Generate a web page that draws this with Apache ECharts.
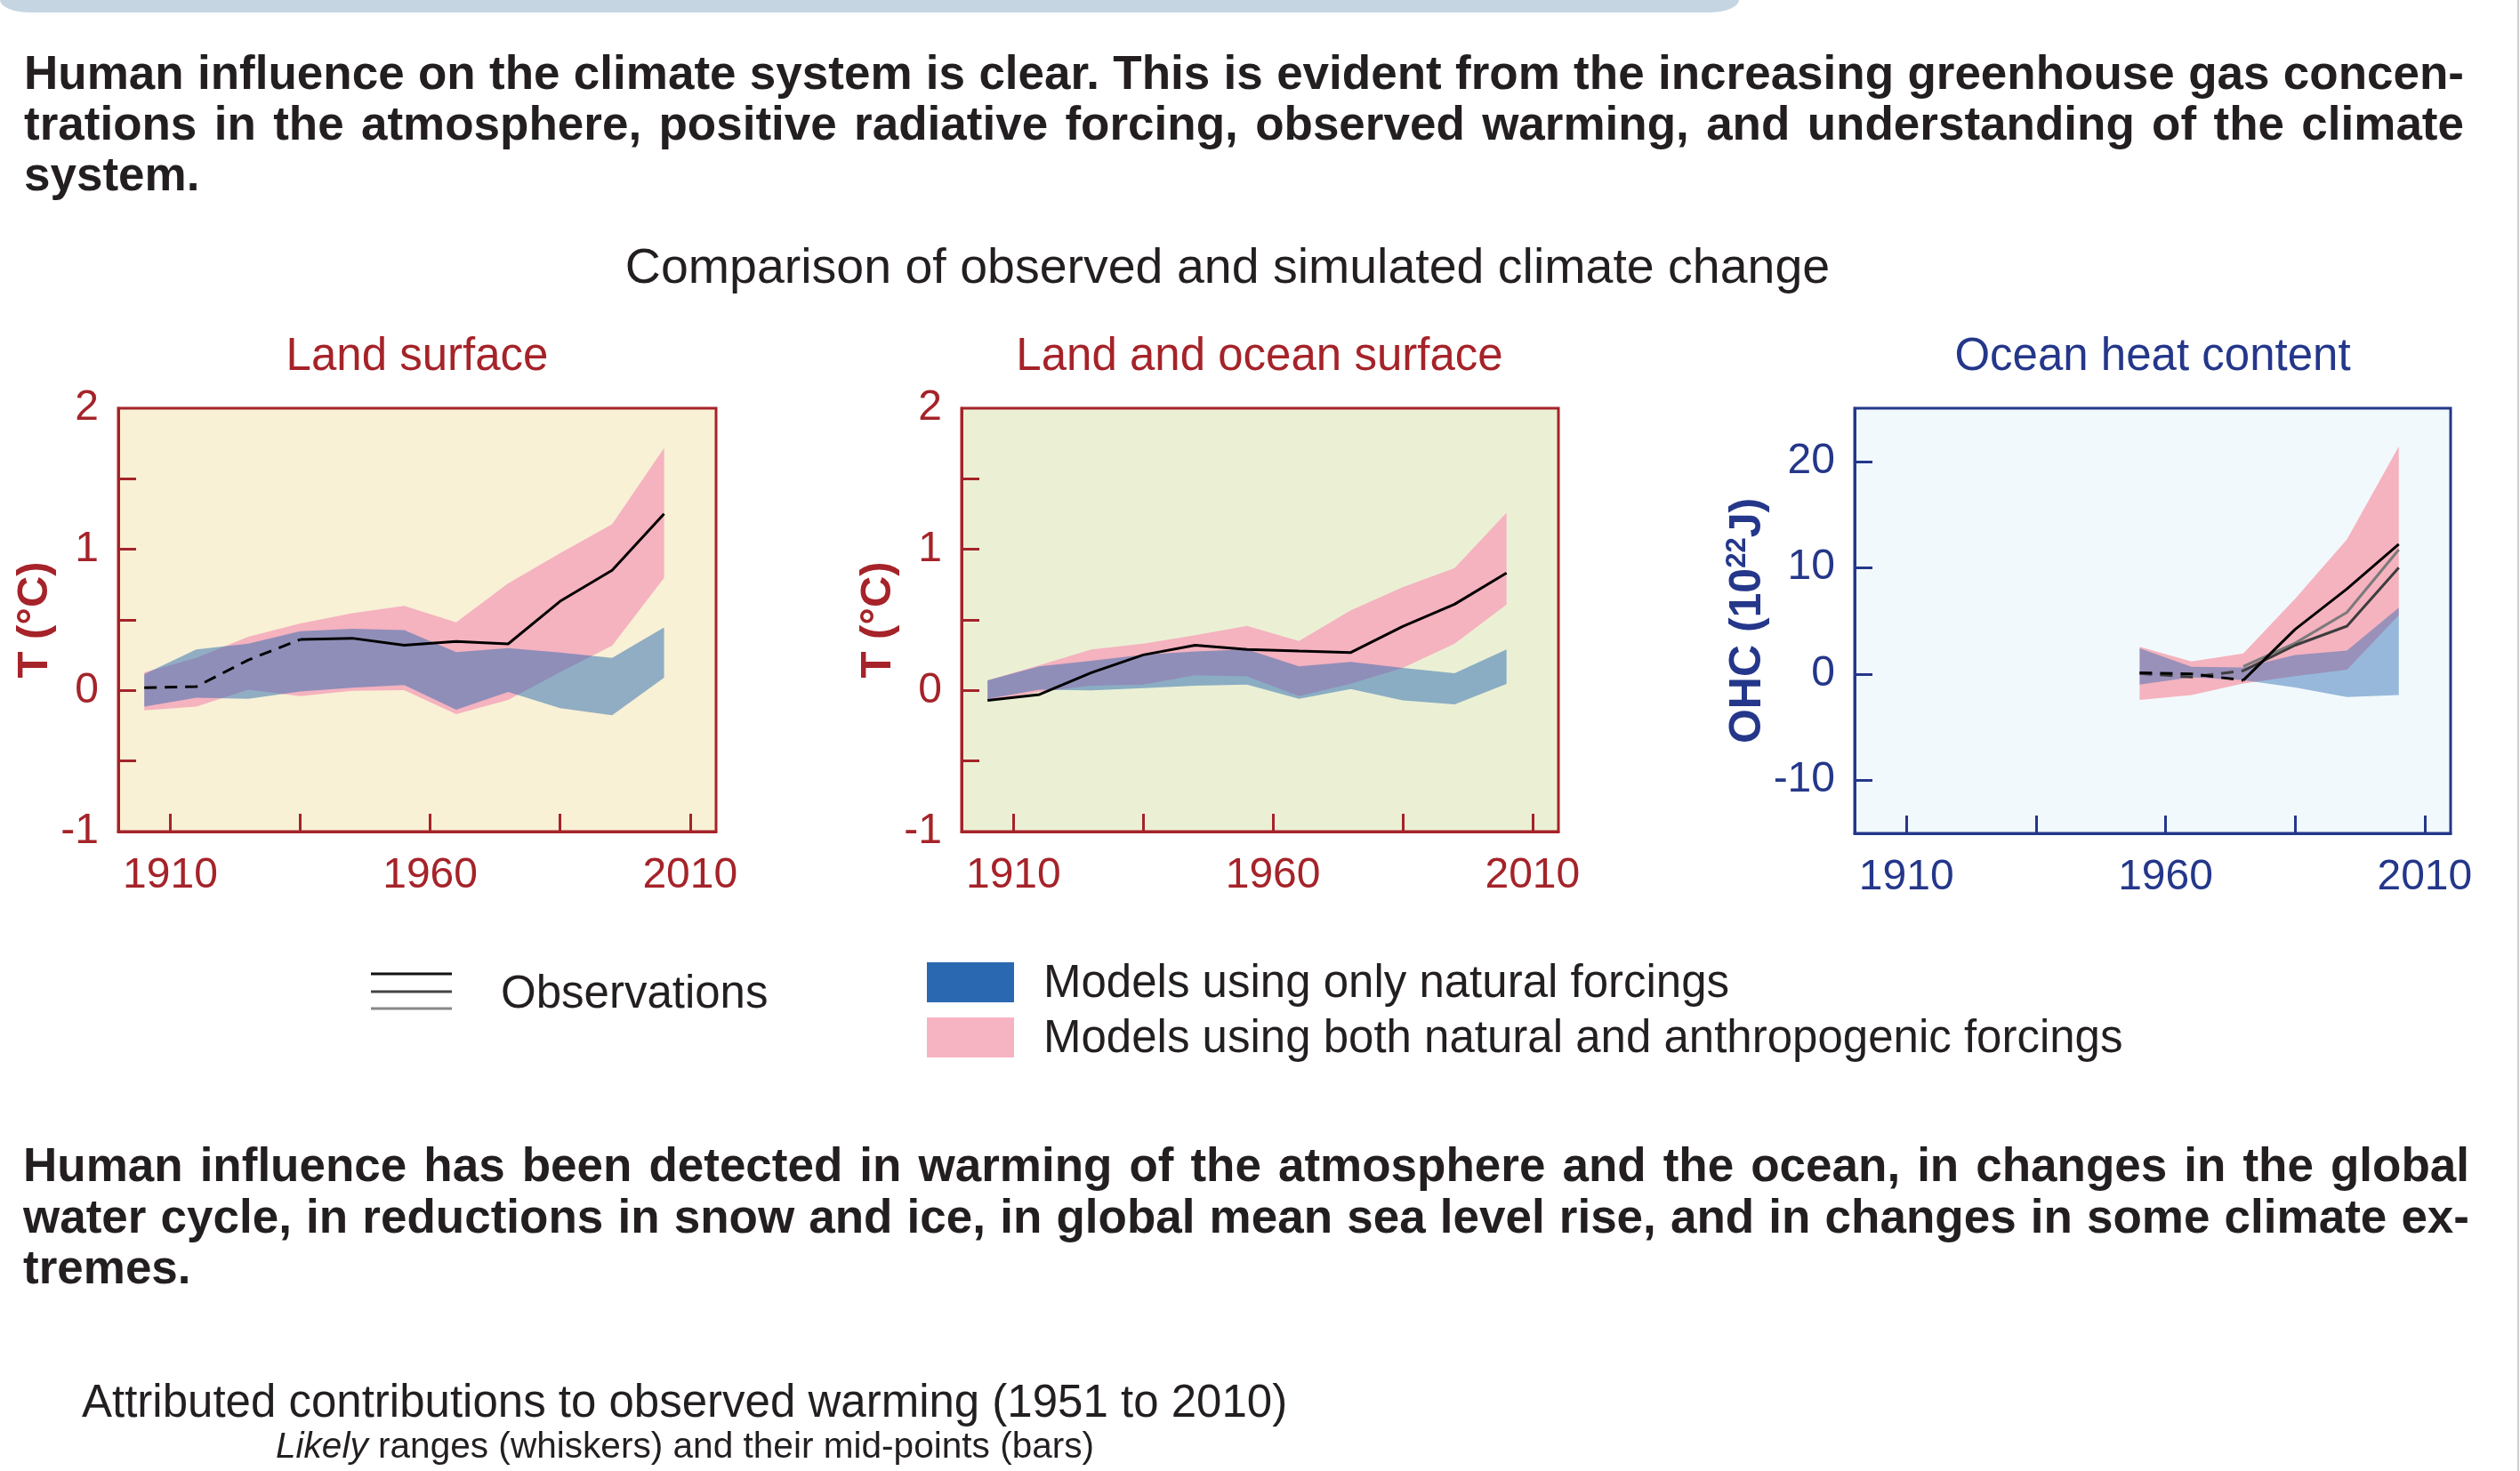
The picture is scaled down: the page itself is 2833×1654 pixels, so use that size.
<!DOCTYPE html>
<html>
<head>
<meta charset="utf-8">
<script src="https://cdn.jsdelivr.net/npm/echarts@6/dist/echarts.min.js"></script>
<style>
  html, body { margin: 0; padding: 0; background: #ffffff; }
  #chart { position: absolute; left: 0; top: 0; width: 2833px; height: 1654px; }
  .ln { position: absolute; white-space: nowrap; font-family: "Liberation Sans", Arial, sans-serif; color: #231f20; }
  .b { font-weight: bold; font-size: 53px; line-height: 57px; }
  #banner { position: absolute; left: 0; top: 0; width: 1955px; height: 14px; background: #c5d6e2;
            border-radius: 0 0 34px 34px / 0 0 14px 14px; }
  #edge { position: absolute; left: 2830px; top: 0; width: 2px; height: 1654px; background: #cfcfcf; }
  #attr { position: absolute; left: 92px; top: 1550px; font-size: 51px; line-height: 51px; }
  #likely { position: absolute; left: 310px; top: 1605px; font-size: 40.6px; line-height: 41px; }
</style>
</head>
<body>
<div id="chart"></div>
<div id="banner"></div>
<div id="edge"></div>
<div id="attr" class="ln">Attributed contributions to observed warming (1951 to 2010)</div>
<div id="likely" class="ln"><i>Likely</i> ranges (whiskers) and their mid-points (bars)</div>
<script>
// ---------------- text ----------------
const para1Lines = [
  "Human influence on the climate system is clear. This is evident from the increasing greenhouse gas concen-",
  "trations in the atmosphere, positive radiative forcing, observed warming, and understanding of the climate",
  "system."
];
const para2Lines = [
  "Human influence has been detected in warming of the atmosphere and the ocean, in changes in the global",
  "water cycle, in reductions in snow and ice, in global mean sea level rise, and in changes in some climate ex-",
  "tremes."
];
const mainTitle = "Comparison of observed and simulated climate change";
const panelTitles = ["Land surface", "Land and ocean surface", "Ocean heat content"];
const legendObs = "Observations";
const legendNat = "Models using only natural forcings";
const legendBoth = "Models using both natural and anthropogenic forcings";

// ---------------- data ----------------
const years = [1905, 1915, 1925, 1935, 1945, 1955, 1965, 1975, 1985, 1995, 2005];
const yearsOhc = [1955, 1965, 1975, 1985, 1995, 2005];

// Land surface (°C)
const landObs       = [0.02, 0.027, 0.216, 0.361, 0.37, 0.321, 0.347, 0.33, 0.632, 0.851, 1.252];
const landObsDashedUntil = 1935;
const landBothUpper = [0.128, 0.231, 0.38, 0.475, 0.548, 0.599, 0.483, 0.758, 0.972, 1.178, 1.718];
const landBothLower = [-0.141, -0.115, 0.006, -0.04, -0.002, 0.002, -0.168, -0.067, 0.13, 0.317, 0.798];
const landNatUpper  = [0.115, 0.29, 0.332, 0.42, 0.437, 0.428, 0.271, 0.30, 0.269, 0.231, 0.447];
const landNatLower  = [-0.115, -0.052, -0.059, -0.008, 0.02, 0.038, -0.137, -0.01, -0.126, -0.176, 0.09];

// Land and ocean surface (°C)
const globObs       = [-0.071, -0.029, 0.126, 0.252, 0.321, 0.29, 0.279, 0.269, 0.454, 0.611, 0.832];
const globBothUpper = [0.071, 0.179, 0.29, 0.332, 0.391, 0.458, 0.351, 0.567, 0.731, 0.867, 1.26];
const globBothLower = [-0.08, -0.01, 0.034, 0.042, 0.107, 0.1, -0.04, 0.048, 0.16, 0.332, 0.609];
const globNatUpper  = [0.071, 0.17, 0.21, 0.252, 0.277, 0.29, 0.17, 0.202, 0.16, 0.122, 0.29];
const globNatLower  = [-0.06, 0.006, 0.0, 0.017, 0.034, 0.042, -0.059, 0.01, -0.071, -0.099, 0.046];

// Ocean heat content (10^22 J)
const ohcObsA = [0.1, 0.0, -0.6, 4.2, 8.0, 12.2];
const ohcObsB = [0.05, -0.3, 0.3, 2.7, 4.5, 10.0];
const ohcObsC = [null, null, 0.7, 2.9, 5.8, 11.7];
const ohcObsDashedUntil = 1975;
const ohcBothUpper = [2.56, 1.17, 1.92, 7.08, 12.65, 21.4];
const ohcBothLower = [-2.45, -1.98, -0.89, -0.2, 0.39, 5.52];
const ohcNatUpper  = [2.4, 0.67, 0.6, 1.78, 2.2, 6.24];
const ohcNatLower  = [-1.0, -0.31, -0.59, -1.28, -2.17, -1.98];

// axis ticks / labels
const xTickYears  = [1910, 1935, 1960, 1985, 2010];
const xLabelYears = [1910, 1960, 2010];
const tTicks  = [-0.5, 0, 0.5, 1, 1.5];
const tLabels = [-1, 0, 1, 2];
const ohcTicks = [-10, 0, 10, 20];

// ---------------- styles ----------------
const FONT = '"Liberation Sans", Arial, sans-serif';
const RED = '#a52329';
const BLUE = '#24378a';
const PINK = '#f5b2bf';
const NAT = 'rgba(42,105,177,0.5)';
const NAT3 = 'rgba(42,105,177,0.45)';
const INK = '#231f20';
const LABEL_SIZE = 48;

// ---------------- paragraphs (justified lines) ----------------
function placeLines(lines, left, width, firstTop, step) {
  lines.forEach(function (t, i) {
    const d = document.createElement('div');
    d.className = 'ln b';
    d.textContent = t;
    d.style.left = left + 'px';
    d.style.top = (firstTop + i * step) + 'px';
    document.body.appendChild(d);
    if (i < lines.length - 1) {
      const nat = d.getBoundingClientRect().width;
      const sp = (t.match(/ /g) || []).length;
      if (sp > 0) d.style.wordSpacing = ((width - nat) / sp) + 'px';
    }
  });
}
placeLines(para1Lines, 27, 2743, 53, 57);
placeLines(para2Lines, 26, 2750, 1281, 57.5);

// ---------------- chart ----------------
function bandData(xs, lo, up) { return xs.map(function (x, k) { return [x, lo[k], up[k]]; }); }

function bandSeries(idx, xs, lo, up, fill, z) {
  return {
    type: 'custom', xAxisIndex: idx, yAxisIndex: idx, z: z, silent: true,
    encode: { x: 0, y: [1, 2] },
    data: bandData(xs, lo, up),
    renderItem: function (params, api) {
      if (params.dataIndexInside !== 0) return null;
      const n = params.dataInsideLength;
      const top = [], bot = [];
      for (let k = 0; k < n; k++) {
        const x = api.value(0, k);
        top.push(api.coord([x, api.value(2, k)]));
        bot.push(api.coord([x, api.value(1, k)]));
      }
      return { type: 'polygon', shape: { points: top.concat(bot.reverse()) }, style: { fill: fill } };
    }
  };
}

function lineSeries(idx, xs, ys, color, dashed, fromYear, toYear) {
  const d = [];
  xs.forEach(function (x, k) {
    if (x >= fromYear && x <= toYear && ys[k] !== null) d.push([x, ys[k]]);
  });
  return {
    type: 'line', xAxisIndex: idx, yAxisIndex: idx, z: 6, silent: true,
    symbol: 'none', data: d,
    lineStyle: { color: color, width: 3, type: dashed ? [14, 9] : 'solid' }
  };
}

function xAxisDef(idx, color) {
  return {
    type: 'value', gridIndex: idx, min: 1900, max: 2015,
    axisLine: { show: true, onZero: false, lineStyle: { color: color, width: 3 } },
    axisTick: { show: true, inside: true, length: 20, customValues: xTickYears, lineStyle: { color: color, width: 3 } },
    axisLabel: { show: true, customValues: xLabelYears, color: color, fontSize: LABEL_SIZE, margin: 26, fontFamily: FONT,
                 formatter: function (v) { return String(v); } },
    splitLine: { show: false }
  };
}

function tAxisDef(idx, gap) {
  return {
    type: 'value', gridIndex: idx, min: -1, max: 2,
    name: 'T (°C)', nameLocation: 'middle', nameGap: gap,
    nameTextStyle: { color: RED, fontSize: 49, fontWeight: 'bold', fontFamily: FONT },
    axisLine: { show: true, onZero: false, lineStyle: { color: RED, width: 3 } },
    axisTick: { show: true, inside: true, length: 20, customValues: tTicks, lineStyle: { color: RED, width: 3 } },
    axisLabel: { show: true, customValues: tLabels, color: RED, fontSize: LABEL_SIZE, margin: 22, fontFamily: FONT,
                 formatter: function (v) { return String(v); } },
    splitLine: { show: false }
  };
}

const option = {
  backgroundColor: '#ffffff',
  animation: false,
  textStyle: { fontFamily: FONT },
  title: [
    { text: mainTitle, left: 1380, top: 275, textAlign: 'center', padding: 0,
      textStyle: { fontSize: 55.5, fontWeight: 'normal', color: INK, fontFamily: FONT } },
    { text: panelTitles[0], left: 469, top: 376, textAlign: 'center', padding: 0,
      textStyle: { fontSize: 51, fontWeight: 'normal', color: RED, fontFamily: FONT } },
    { text: panelTitles[1], left: 1416, top: 376, textAlign: 'center', padding: 0,
      textStyle: { fontSize: 51, fontWeight: 'normal', color: RED, fontFamily: FONT } },
    { text: panelTitles[2], left: 2420, top: 376, textAlign: 'center', padding: 0,
      textStyle: { fontSize: 51, fontWeight: 'normal', color: BLUE, fontFamily: FONT } }
  ],
  grid: [
    { left: 133, top: 459, width: 672, height: 476, show: true, backgroundColor: '#f8f1d5', borderColor: RED, borderWidth: 3 },
    { left: 1081, top: 459, width: 671, height: 476, show: true, backgroundColor: '#ebf0d5', borderColor: RED, borderWidth: 3 },
    { left: 2085, top: 459, width: 670, height: 478, show: true, backgroundColor: '#f1f9fc', borderColor: BLUE, borderWidth: 3 }
  ],
  xAxis: [xAxisDef(0, RED), xAxisDef(1, RED), xAxisDef(2, BLUE)],
  yAxis: [
    tAxisDef(0, 55),
    tAxisDef(1, 53),
    {
      type: 'value', gridIndex: 2, min: -15, max: 25,
      name: '{a|OHC (10}{s|22}{a|J)}', nameLocation: 'middle', nameGap: 92,
      nameTextStyle: {
        color: BLUE, fontSize: 50, fontWeight: 'bold', fontFamily: FONT,
        rich: {
          a: { color: BLUE, fontSize: 50, fontWeight: 'bold', fontFamily: FONT, lineHeight: 54 },
          s: { color: BLUE, fontSize: 31, fontWeight: 'bold', fontFamily: FONT, verticalAlign: 'top', lineHeight: 54 }
        }
      },
      axisLine: { show: true, onZero: false, lineStyle: { color: BLUE, width: 3 } },
      axisTick: { show: true, inside: true, length: 20, customValues: ohcTicks, lineStyle: { color: BLUE, width: 3 } },
      axisLabel: { show: true, customValues: ohcTicks, color: BLUE, fontSize: LABEL_SIZE, margin: 22, fontFamily: FONT,
                   formatter: function (v) { return String(v); } },
      splitLine: { show: false }
    }
  ],
  series: [
    bandSeries(0, years, landBothLower, landBothUpper, PINK, 1),
    bandSeries(0, years, landNatLower, landNatUpper, NAT, 2),
    lineSeries(0, years, landObs, '#000000', true, 1900, landObsDashedUntil),
    lineSeries(0, years, landObs, '#000000', false, landObsDashedUntil, 2015),

    bandSeries(1, years, globBothLower, globBothUpper, PINK, 1),
    bandSeries(1, years, globNatLower, globNatUpper, NAT, 2),
    lineSeries(1, years, globObs, '#000000', false, 1900, 2015),

    bandSeries(2, yearsOhc, ohcBothLower, ohcBothUpper, PINK, 1),
    bandSeries(2, yearsOhc, ohcNatLower, ohcNatUpper, NAT3, 2),
    lineSeries(2, yearsOhc, ohcObsC, '#7a7a7a', false, ohcObsDashedUntil, 2015),
    lineSeries(2, yearsOhc, ohcObsB, '#3d3d3d', true, 1900, ohcObsDashedUntil),
    lineSeries(2, yearsOhc, ohcObsB, '#3d3d3d', false, ohcObsDashedUntil, 2015),
    lineSeries(2, yearsOhc, ohcObsA, '#000000', true, 1900, ohcObsDashedUntil),
    lineSeries(2, yearsOhc, ohcObsA, '#000000', false, ohcObsDashedUntil, 2015)
  ],
  graphic: [
    { type: 'line', shape: { x1: 417, y1: 1095, x2: 508, y2: 1095 }, style: { stroke: '#111111', lineWidth: 3 } },
    { type: 'line', shape: { x1: 417, y1: 1115, x2: 508, y2: 1115 }, style: { stroke: '#444444', lineWidth: 3 } },
    { type: 'line', shape: { x1: 417, y1: 1134, x2: 508, y2: 1134 }, style: { stroke: '#888888', lineWidth: 3 } },
    { type: 'text', x: 563, y: 1119, style: { text: legendObs, font: '51px ' + FONT, fill: INK, textVerticalAlign: 'middle', verticalAlign: 'middle' } },
    { type: 'rect', shape: { x: 1042, y: 1082, width: 98, height: 45 }, style: { fill: '#2a69b1' } },
    { type: 'rect', shape: { x: 1042, y: 1144, width: 98, height: 45 }, style: { fill: '#f6b4c2' } },
    { type: 'text', x: 1173, y: 1107, style: { text: legendNat, font: '51px ' + FONT, fill: INK, textVerticalAlign: 'middle', verticalAlign: 'middle' } },
    { type: 'text', x: 1173, y: 1169, style: { text: legendBoth, font: '51px ' + FONT, fill: INK, textVerticalAlign: 'middle', verticalAlign: 'middle' } }
  ]
};

const chart = echarts.init(document.getElementById('chart'), null, { renderer: 'canvas', width: 2833, height: 1654 });
chart.setOption(option);
</script>
</body>
</html>
